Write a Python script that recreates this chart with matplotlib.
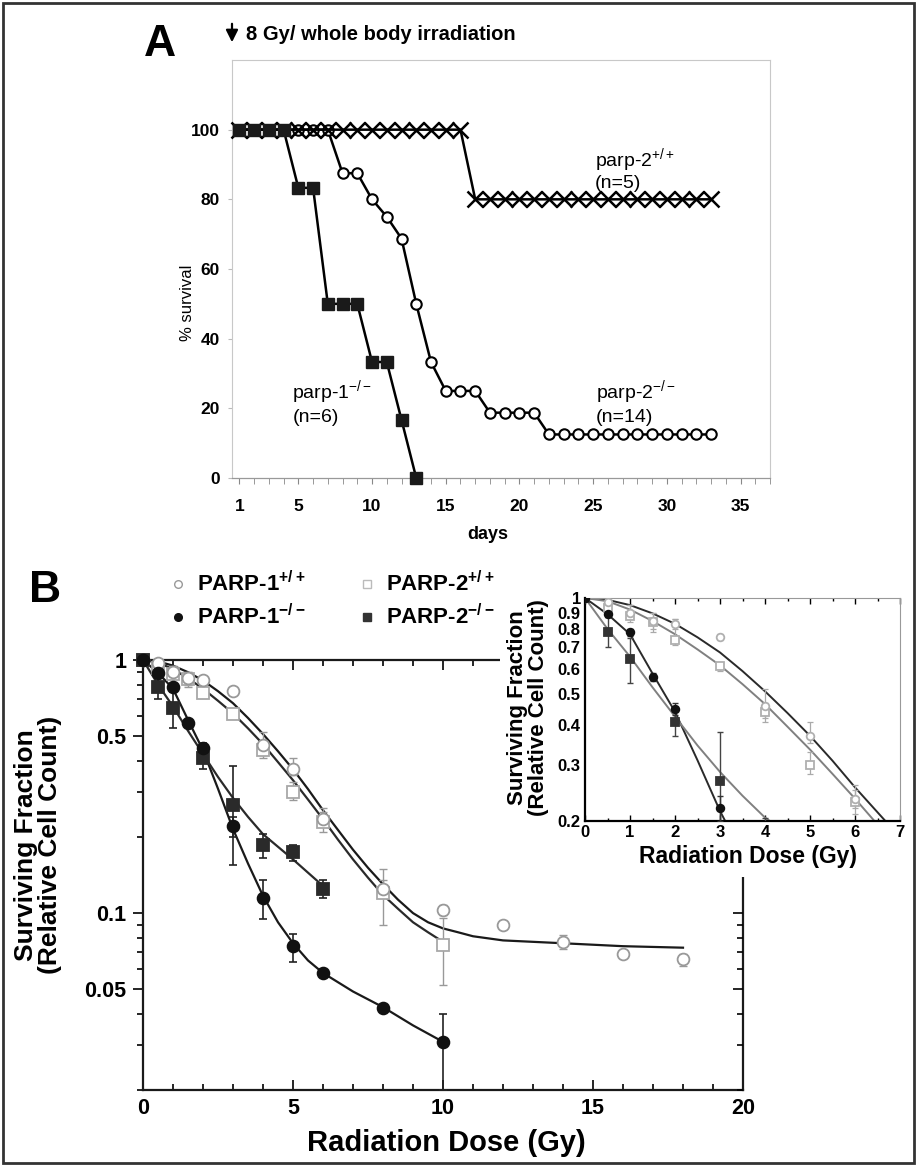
import matplotlib
matplotlib.use("Agg")
import matplotlib.pyplot as plt
from matplotlib.patches import Rectangle
from matplotlib.lines import Line2D
from matplotlib.ticker import MultipleLocator, FixedLocator, NullLocator, NullFormatter
import numpy as np

plt.rcParams['font.family'] = ['Liberation Sans', 'DejaVu Sans']
plt.rcParams['mathtext.fontset'] = 'custom'
plt.rcParams['mathtext.rm'] = 'Liberation Sans'
plt.rcParams['mathtext.bf'] = 'Liberation Sans:bold'

# ---- panel A: survival after 8 Gy whole body irradiation
p1ko_days = [1, 2, 3, 4, 5, 6, 7, 8, 9, 10, 11, 12, 13]
p1ko_surv = [100, 100, 100, 100, 83.3, 83.3, 50, 50, 50, 33.3, 33.3, 16.7, 0]

p2ko_days = [1, 2, 3, 4, 5, 6, 7, 8, 9, 10, 11, 12, 13, 14, 15, 16, 17,
             18, 19, 20, 21, 22, 23, 24, 25, 26, 27, 28, 29, 30, 31, 32, 33]
p2ko_surv = [100, 100, 100, 100, 100, 100, 100, 87.5, 87.5, 80, 75, 68.75, 50,
             33.3, 25, 25, 25, 18.75, 18.75, 18.75, 18.75, 12.5, 12.5, 12.5,
             12.5, 12.5, 12.5, 12.5, 12.5, 12.5, 12.5, 12.5, 12.5]

p2wt_days = [1, 2, 3, 4, 5, 6, 7, 8, 9, 10, 11, 12, 13, 14, 15, 16, 17,
             18, 19, 20, 21, 22, 23, 24, 25, 26, 27, 28, 29, 30, 31, 32, 33]
p2wt_surv = [100, 100, 100, 100, 100, 100, 100, 100, 100, 100, 100, 100, 100,
             100, 100, 100, 80, 80, 80, 80, 80, 80, 80, 80, 80, 80, 80, 80,
             80, 80, 80, 80, 80]

# ---- panel B: surviving fraction vs dose (points, error bounds)
p1wt_dose = [0, 0.5, 1, 1.5, 2, 3, 4, 5, 6, 8, 10, 12, 14, 16, 18]
p1wt_val = [1.0, 0.97, 0.9, 0.85, 0.83, 0.755, 0.46, 0.37, 0.235, 0.125, 0.103, 0.09, 0.077, 0.069, 0.066]
p1wt_lo = [1.0, 0.95, 0.86, 0.8, 0.8, 0.74, 0.42, 0.35, 0.22, 0.115, 0.098, 0.088, 0.072, 0.067, 0.062]
p1wt_hi = [1.0, 0.99, 0.95, 0.9, 0.86, 0.77, 0.52, 0.41, 0.26, 0.135, 0.108, 0.093, 0.082, 0.071, 0.069]

p2wt_dose = [0, 0.5, 1, 1.5, 2, 3, 4, 5, 6, 8, 10]
p2wt_val = [1.0, 0.93, 0.88, 0.84, 0.74, 0.61, 0.44, 0.30, 0.23, 0.12, 0.075]
p2wt_lo = [1.0, 0.9, 0.84, 0.78, 0.71, 0.59, 0.41, 0.28, 0.21, 0.09, 0.052]
p2wt_hi = [1.0, 0.97, 0.95, 0.9, 0.86, 0.63, 0.47, 0.33, 0.25, 0.15, 0.096]

p1ko_dose = [0, 0.5, 1, 1.5, 2, 3, 4, 5, 6, 8, 10]
p1ko_val = [1.0, 0.89, 0.78, 0.565, 0.45, 0.22, 0.115, 0.074, 0.058, 0.042, 0.031]
p1ko_lo = [1.0, 0.87, 0.76, 0.55, 0.43, 0.2, 0.095, 0.064, 0.056, 0.041, 0.02]
p1ko_hi = [1.0, 0.91, 0.8, 0.58, 0.47, 0.24, 0.135, 0.083, 0.06, 0.043, 0.04]

p2ko_dose = [0, 0.5, 1, 2, 3, 4, 5, 6]
p2ko_val = [1.0, 0.78, 0.645, 0.41, 0.267, 0.186, 0.174, 0.125]
p2ko_lo = [1.0, 0.70, 0.54, 0.37, 0.155, 0.165, 0.16, 0.115]
p2ko_hi = [1.0, 0.87, 0.75, 0.45, 0.38, 0.205, 0.185, 0.135]

# fitted curves
fit_p1wt_x = [0, 0.5, 1, 1.5, 2, 2.5, 3, 3.5, 4, 4.5, 5, 5.5, 6, 6.5, 7, 7.5, 8, 8.5, 9, 9.5, 10, 10.5, 11, 12, 14, 16, 18]
fit_p1wt_y = [1.0, 0.987, 0.95, 0.895, 0.83, 0.753, 0.675, 0.59, 0.51, 0.436, 0.37, 0.309, 0.255, 0.213, 0.178, 0.151, 0.13, 0.113, 0.1, 0.092, 0.087, 0.084, 0.081, 0.078, 0.076, 0.074, 0.073]
fit_p2wt_x = [0, 0.5, 1, 1.5, 2, 2.5, 3, 3.5, 4, 4.5, 5, 5.5, 6, 6.5, 7, 7.5, 8, 8.5, 9, 9.5, 10]
fit_p2wt_y = [1.0, 0.977, 0.92, 0.847, 0.77, 0.69, 0.615, 0.537, 0.465, 0.395, 0.335, 0.281, 0.235, 0.195, 0.163, 0.138, 0.118, 0.104, 0.092, 0.084, 0.077]
fit_p1ko_x = [0, 0.5, 1, 1.5, 2, 2.5, 3, 3.5, 4, 4.5, 5, 5.5, 6, 7, 8, 9, 10]
fit_p1ko_y = [1.0, 0.89, 0.77, 0.58, 0.44, 0.31, 0.215, 0.157, 0.117, 0.092, 0.076, 0.065, 0.058, 0.049, 0.0425, 0.036, 0.031]
fit_p2ko_x = [0, 0.5, 1, 1.5, 2, 2.5, 3, 3.5, 4, 5, 6]
fit_p2ko_y = [1.0, 0.8, 0.655, 0.525, 0.425, 0.345, 0.285, 0.24, 0.205, 0.163, 0.128]

W, H = 917, 1166
fig = plt.figure(figsize=(W / 100, H / 100), dpi=100)


def box(x0, y0, x1, y1):
    # pixel box (top-left origin) -> figure fraction rect
    return [x0 / W, 1 - y1 / H, (x1 - x0) / W, (y1 - y0) / H]


def bold_ticks(ax):
    for t in ax.get_xticklabels() + ax.get_yticklabels():
        t.set_fontweight('bold')


# ================= panel A =================
axA = fig.add_axes(box(232, 60, 770, 478))
axA.plot(p2ko_days, p2ko_surv, color='black', lw=1.8, marker='o', ms=7.5,
         mfc='white', mec='black', mew=1.5, zorder=3, clip_on=False)
axA.plot(p2wt_days, p2wt_surv, color='black', lw=1.8, marker='x', ms=11,
         mew=1.8, zorder=4, clip_on=False)
axA.plot(p1ko_days, p1ko_surv, color='black', lw=1.8, marker='s', ms=9,
         mfc='#1a1a1a', mec='#1a1a1a', zorder=5, clip_on=False)

axA.set_xlim(0.5, 37)
axA.set_ylim(0, 120)
axA.set_xticks([1, 5, 10, 15, 20, 25, 30, 35])
axA.xaxis.set_minor_locator(MultipleLocator(1))
axA.set_yticks([0, 20, 40, 60, 80, 100])
axA.tick_params(axis='x', which='both', direction='out', length=4, color='#888',
                labelsize=12.5, pad=11)
axA.tick_params(axis='y', which='both', direction='out', length=3, color='#bbb',
                labelsize=12.5, pad=6)
bold_ticks(axA)
for s in ['top', 'right', 'left']:
    axA.spines[s].set_color('#c8c8c8')
    axA.spines[s].set_linewidth(0.8)
axA.spines['bottom'].set_color('#999')
axA.spines['bottom'].set_linewidth(0.9)

axA.text(25.1, 91, r'parp-2$^{\mathrm{+/+}}$', fontsize=14, ha='left', va='center')
axA.text(25.1, 84.5, '(n=5)', fontsize=14, ha='left', va='center')
axA.text(4.6, 24.5, r'parp-1$^{\mathrm{-/-}}$', fontsize=14, ha='left', va='center')
axA.text(4.6, 17.5, '(n=6)', fontsize=14, ha='left', va='center')
axA.text(25.2, 24.5, r'parp-2$^{\mathrm{-/-}}$', fontsize=14, ha='left', va='center')
axA.text(25.2, 17.5, '(n=14)', fontsize=14, ha='left', va='center')

fig.text(160 / W, 1 - 45 / H, 'A', fontsize=32, fontweight='bold', ha='center', va='center')
fig.text(246 / W, 1 - 34 / H, '8 Gy/ whole body irradiation', fontsize=14.5,
         fontweight='bold', ha='left', va='center')
axA.annotate('', xy=(232 / W, 1 - 45 / H), xytext=(232 / W, 1 - 21 / H),
             xycoords='figure fraction', textcoords='figure fraction',
             arrowprops=dict(arrowstyle='-|>', color='black', lw=1.6, mutation_scale=18),
             annotation_clip=False)
fig.text(188 / W, 1 - 303 / H, '% survival', fontsize=12, rotation=90,
         ha='center', va='center')
fig.text(488 / W, 1 - 535 / H, 'days', fontsize=13, fontweight='bold',
         ha='center', va='center')

# ================= panel B main =================
axB = fig.add_axes(box(143, 660, 743, 1090))
axB.set_yscale('log')


def draw_series(ax, dose, val, lo, hi, marker, ms, face, edge, ecol, cap, lw_err):
    v = np.array(val)
    err = [v - np.array(lo), np.array(hi) - v]
    ax.errorbar(dose, v, yerr=err, fmt='none', ecolor=ecol, elinewidth=lw_err,
                capsize=cap, capthick=lw_err, zorder=3, clip_on=False)
    ax.plot(dose, v, ls='none', marker=marker, ms=ms, mfc=face, mec=edge,
            mew=1.3, zorder=4, clip_on=False)


def draw_fits(ax, lw, dark, light):
    ax.plot(fit_p1wt_x, fit_p1wt_y, color=dark, lw=lw, zorder=2)
    ax.plot(fit_p2wt_x, fit_p2wt_y, color=light, lw=lw, zorder=2)
    ax.plot(fit_p1ko_x, fit_p1ko_y, color=dark, lw=lw, zorder=2)
    ax.plot(fit_p2ko_x, fit_p2ko_y, color=light, lw=lw, zorder=2)


draw_fits(axB, 1.6, '#1a1a1a', '#2a2a2a')
draw_series(axB, p2wt_dose, p2wt_val, p2wt_lo, p2wt_hi, 's', 8, 'white', '#a8a8a8', '#999', 3, 1.0)
draw_series(axB, p1wt_dose, p1wt_val, p1wt_lo, p1wt_hi, 'o', 8.5, 'white', '#999', '#999', 3, 1.0)
draw_series(axB, p2ko_dose, p2ko_val, p2ko_lo, p2ko_hi, 's', 8, '#2a2a2a', '#2a2a2a', '#222', 3, 1.2)
draw_series(axB, p1ko_dose, p1ko_val, p1ko_lo, p1ko_hi, 'o', 8.5, '#111', '#111', '#222', 3, 1.2)

axB.set_xlim(0, 20)
axB.set_ylim(0.02, 1.0)
axB.set_xticks([0, 5, 10, 15, 20])
axB.xaxis.set_minor_locator(MultipleLocator(1))
axB.yaxis.set_major_locator(FixedLocator([0.05, 0.1, 0.5, 1]))
axB.yaxis.set_minor_locator(FixedLocator([0.02, 0.03, 0.04, 0.06, 0.07, 0.08, 0.09,
                                          0.2, 0.3, 0.4, 0.6, 0.7, 0.8, 0.9]))
axB.set_yticklabels(['0.05', '0.1', '0.5', '1'])
axB.yaxis.set_minor_formatter(NullFormatter())
axB.tick_params(axis='x', which='both', direction='in', top=True, bottom=True,
                labelsize=15.5, pad=6, width=1.2)
axB.tick_params(axis='x', which='major', length=7)
axB.tick_params(axis='x', which='minor', length=4)
axB.tick_params(axis='y', which='both', direction='out', right=False,
                labelsize=15.5, pad=5, width=1.2)
axB.tick_params(axis='y', which='major', length=7)
axB.tick_params(axis='y', which='minor', length=4)
bold_ticks(axB)
for s in axB.spines.values():
    s.set_linewidth(1.6)
    s.set_color('#1a1a1a')

axR = axB.twinx()
axR.set_yscale('log')
axR.set_ylim(0.02, 1.0)
axR.yaxis.set_major_locator(FixedLocator([0.05, 0.1, 0.5, 1]))
axR.yaxis.set_minor_locator(FixedLocator([0.02, 0.03, 0.04, 0.06, 0.07, 0.08, 0.09,
                                          0.2, 0.3, 0.4, 0.6, 0.7, 0.8, 0.9]))
axR.yaxis.set_major_formatter(NullFormatter())
axR.yaxis.set_minor_formatter(NullFormatter())
axR.tick_params(axis='y', which='both', direction='in', width=1.2)
axR.tick_params(axis='y', which='major', length=7)
axR.tick_params(axis='y', which='minor', length=4)
for s in axR.spines.values():
    s.set_visible(False)

fig.text(38 / W, 1 - 845 / H, 'Surviving Fraction\n(Relative Cell Count)', fontsize=19,
         fontweight='bold', rotation=90, ha='center', va='center', linespacing=1.0)
fig.text(446 / W, 1 - 1143 / H, 'Radiation Dose (Gy)', fontsize=21,
         fontweight='bold', ha='center', va='center')
fig.text(45 / W, 1 - 590 / H, 'B', fontsize=32, fontweight='bold', ha='center', va='center')

# legend
leg_items = [
    (178, 584, 'o', 'white', '#999', r'PARP-1$^{\mathbf{+/+}}$'),
    (367, 584, 's', 'white', '#bbb', r'PARP-2$^{\mathbf{+/+}}$'),
    (178, 617, 'o', '#111', '#111', r'PARP-1$^{\mathbf{-/-}}$'),
    (367, 617, 's', '#333', '#333', r'PARP-2$^{\mathbf{-/-}}$'),
]
for x, y, m, fc, ec, lab in leg_items:
    fig.add_artist(Line2D([x / W], [1 - y / H], marker=m, ms=5.5, mfc=fc, mec=ec,
                          mew=1.0, ls='none', transform=fig.transFigure))
    fig.text((x + 19) / W, 1 - y / H, lab, fontsize=16, fontweight='bold',
             ha='left', va='center')

# white mask behind inset
fig.add_artist(Rectangle((500 / W, 1 - 877 / H), 408 / W, 312 / H, facecolor='white',
                         edgecolor='none', transform=fig.transFigure, zorder=1))

# ================= inset =================
axI = fig.add_axes(box(585, 598, 900, 821))
axI.set_zorder(2)
axI.set_yscale('log')
draw_fits(axI, 1.4, '#2a2a2a', '#808080')
draw_series(axI, p2wt_dose, p2wt_val, p2wt_lo, p2wt_hi, 's', 5.5, 'white', '#b0b0b0', '#aaa', 2, 0.9)
draw_series(axI, p1wt_dose, p1wt_val, p1wt_lo, p1wt_hi, 'o', 5.5, 'white', '#b0b0b0', '#aaa', 2, 0.9)
draw_series(axI, p2ko_dose, p2ko_val, p2ko_lo, p2ko_hi, 's', 5.5, '#333', '#333', '#444', 2, 1.0)
draw_series(axI, p1ko_dose, p1ko_val, p1ko_lo, p1ko_hi, 'o', 5.5, '#111', '#111', '#333', 2, 1.0)
for ln in axI.lines + axI.collections:
    ln.set_clip_on(True)
axI.set_xlim(0, 7)
axI.set_ylim(0.2, 1.0)
axI.set_xticks([0, 1, 2, 3, 4, 5, 6, 7])
axI.xaxis.set_minor_locator(MultipleLocator(0.5))
axI.yaxis.set_major_locator(FixedLocator([0.2, 0.3, 0.4, 0.5, 0.6, 0.7, 0.8, 0.9, 1.0]))
axI.yaxis.set_minor_locator(NullLocator())
axI.set_yticklabels(['0.2', '0.3', '0.4', '0.5', '0.6', '0.7', '0.8', '0.9', '1'])
axI.tick_params(axis='both', which='both', direction='in', top=True, labelsize=12, width=1.0)
axI.tick_params(axis='x', which='major', length=4, pad=3)
axI.tick_params(axis='x', which='minor', length=2.5)
axI.tick_params(axis='y', which='major', length=0, pad=3)
bold_ticks(axI)
axI.spines['left'].set_linewidth(1.6)
axI.spines['bottom'].set_linewidth(1.6)
axI.spines['top'].set_color('#999')
axI.spines['right'].set_color('#999')
fig.text(528 / W, 1 - 708 / H, 'Surviving Fraction\n(Relative Cell Count)', fontsize=16,
         fontweight='bold', rotation=90, ha='center', va='center', linespacing=0.95,
         zorder=3)
fig.text(748 / W, 1 - 856 / H, 'Radiation Dose (Gy)', fontsize=16.5,
         fontweight='bold', ha='center', va='center', zorder=3)

# outer frame
fig.add_artist(Rectangle((3 / W, 3 / H), 911 / W, 1160 / H, fill=False, edgecolor='#333',
                         lw=2, transform=fig.transFigure, zorder=5))

fig.savefig('out.png', dpi=100)
